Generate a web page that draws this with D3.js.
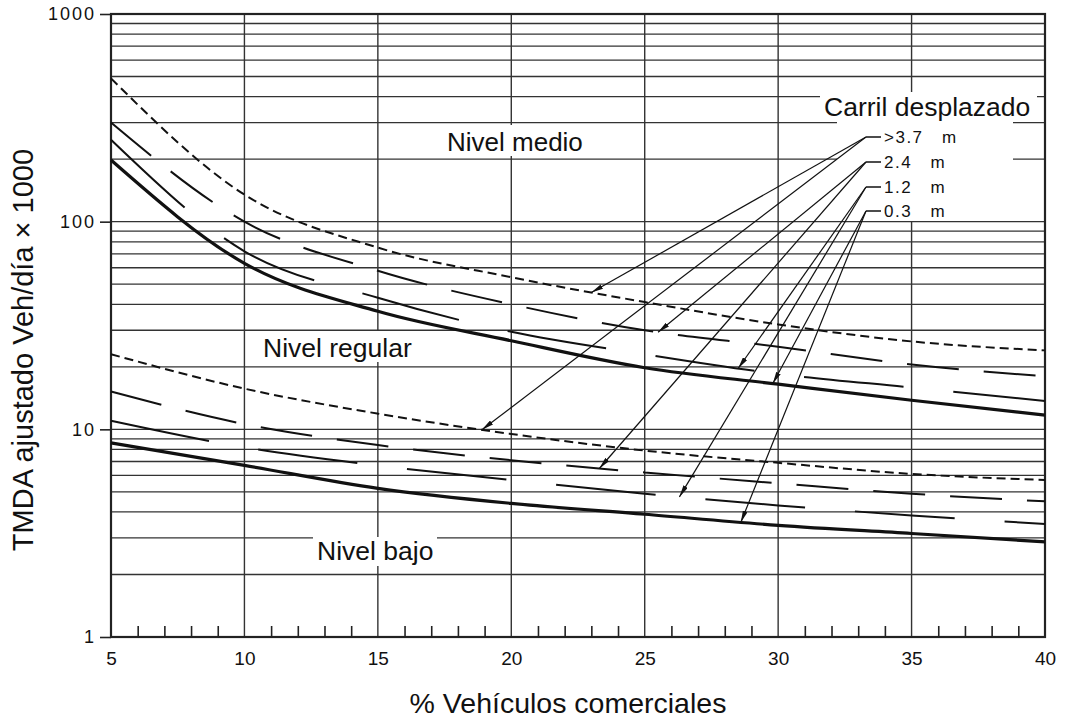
<!DOCTYPE html>
<html>
<head>
<meta charset="utf-8">
<script src="https://cdn.jsdelivr.net/npm/d3@7/dist/d3.min.js"></script>
<style>
  body { margin: 0; background: #fff; }
  text { font-family: "Liberation Sans", Arial, sans-serif; fill: #111; }
</style>
</head>
<body>
<svg id="chart" width="1065" height="724"></svg>
<script>
// % vehiculos comerciales (x)
var pctComercial = [5, 10, 15, 20, 25, 30, 35, 40];

// upper family (limit nivel medio / nivel regular)
var medio37 = [490, 135, 75, 54, 41, 32, 26.5, 24];
var medio24 = [300, 100, 58, 40, 30, 25, 20.5, 18];
var medio12 = [248, 72, 43, 29.5, 23, 18.5, 15.9, 13.7];
var medio03 = [198, 63, 37, 26.7, 19.8, 16.5, 13.8, 11.7];

// lower family (limit nivel regular / nivel bajo)
var regular37 = [23, 15.7, 11.9, 9.5, 7.9, 6.9, 6.1, 5.7];
var regular24 = [15.2, 10.6, 8.4, 7.1, 6.2, 5.5, 4.9, 4.5];
var regular12 = [11, 8.2, 6.7, 5.7, 4.9, 4.3, 3.85, 3.5];
var regular03 = [8.6, 6.7, 5.2, 4.4, 3.9, 3.45, 3.15, 2.87];

var carrilLabels = [">3.7  m", "2.4  m", "1.2  m", "0.3  m"];
var xTicks = [5, 10, 15, 20, 25, 30, 35, 40];
var yTicks = [1, 10, 100, 1000];
// where the arrows touch the curves (x value)
var arrowMedioX = [23.0, 25.5, 28.5, 29.8];
var arrowRegularX = [18.9, 23.3, 26.3, 28.6];

var svg = d3.select("#chart");
var pl = 111, pr = 1045, pt = 14, pb = 637;

var x = d3.scaleLinear().domain([5, 40]).range([pl, pr]);
var y = d3.scaleLog().domain([1, 1000]).range([pb, pt]);

// grid lines
var gridVals = [];
[1, 10, 100].forEach(function(dec) {
  for (var m = 1; m < 10; m++) gridVals.push(m * dec);
});
gridVals.push(1000);

var grid = svg.append("g");
grid.selectAll("line.h").data(gridVals).enter().append("line")
  .attr("x1", pl).attr("x2", pr)
  .attr("y1", function(d) { return y(d); })
  .attr("y2", function(d) { return y(d); })
  .attr("stroke", "#333")
  .attr("stroke-width", function(d) { return (d == 1 || d == 1000) ? 2.2 : 1.3; });

grid.selectAll("line.v").data(xTicks.slice(1, -1)).enter().append("line")
  .attr("x1", function(d) { return x(d); })
  .attr("x2", function(d) { return x(d); })
  .attr("y1", pt).attr("y2", pb)
  .attr("stroke", "#333").attr("stroke-width", 1.4);

// border
svg.append("rect")
  .attr("x", pl).attr("y", pt)
  .attr("width", pr - pl).attr("height", pb - pt)
  .attr("fill", "none").attr("stroke", "#222").attr("stroke-width", 2.2);

// minor ticks along the bottom
var minor = d3.range(6, 40).filter(function(d) { return d % 5 != 0; });
svg.append("g")
  .attr("transform", "translate(0," + pb + ")")
  .call(d3.axisBottom(x).tickValues(minor).tickSize(-11).tickFormat(""))
  .call(function(g) {
    g.select(".domain").remove();
    g.selectAll("line").attr("stroke", "#222").attr("stroke-width", 1.6);
  });

// x axis labels
svg.append("g")
  .attr("transform", "translate(0," + pb + ")")
  .call(d3.axisBottom(x).tickValues(xTicks).tickSize(0).tickPadding(15))
  .call(function(g) {
    g.select(".domain").remove();
    g.selectAll("text").attr("font-size", 19).attr("font-family", "Liberation Sans, Arial, sans-serif").attr("fill", "#222");
  });

// y axis
svg.append("g")
  .attr("transform", "translate(" + pl + ",0)")
  .call(d3.axisLeft(y).tickValues(yTicks).tickSize(11).tickPadding(4).tickFormat(d3.format("d")))
  .call(function(g) {
    g.select(".domain").remove();
    g.selectAll("line").attr("stroke", "#222").attr("stroke-width", 1.6);
    g.selectAll("text").attr("font-size", 18).attr("letter-spacing", "2px")
      .attr("font-family", "Liberation Sans, Arial, sans-serif").attr("fill", "#333");
  });

// white boxes behind labels
function box(x0, y0, w, h) {
  svg.append("rect").attr("x", x0).attr("y", y0).attr("width", w).attr("height", h).attr("fill", "#fff");
}
box(443, 125, 147, 31);
box(258, 331, 157, 31);
box(313, 537, 124, 29);
box(820, 92, 217, 29);
box(837, 121, 176, 100);

// curves
var styles = [
  { dash: "9,5", w: 2 },
  { dash: "52,25", w: 2 },
  { dash: "100,50", w: 2 },
  { dash: null, w: 3.2 }
];
var line = d3.line()
  .x(function(d) { return x(d[0]); })
  .y(function(d) { return y(d[1]); })
  .curve(d3.curveMonotoneX);

function drawFamily(list) {
  return list.map(function(vals, i) {
    var pts = pctComercial.map(function(p, j) { return [p, vals[j]]; });
    return svg.append("path")
      .attr("d", line(pts))
      .attr("fill", "none")
      .attr("stroke", "#111")
      .attr("stroke-width", styles[i].w)
      .attr("stroke-dasharray", styles[i].dash);
  });
}
var medioPaths = drawFamily([medio37, medio24, medio12, medio03]);
var regularPaths = drawFamily([regular37, regular24, regular12, regular03]);

// point of a path at a given x value
function pointAt(path, xv) {
  var node = path.node(), px = x(xv);
  var lo = 0, hi = node.getTotalLength();
  for (var k = 0; k < 40; k++) {
    var mid = (lo + hi) / 2;
    if (node.getPointAtLength(mid).x < px) lo = mid; else hi = mid;
  }
  return node.getPointAtLength(lo);
}

// arrows
svg.append("defs").append("marker")
  .attr("id", "ah").attr("viewBox", "0 0 12 5")
  .attr("refX", 12).attr("refY", 2.5)
  .attr("markerWidth", 12).attr("markerHeight", 5)
  .attr("markerUnits", "userSpaceOnUse").attr("orient", "auto")
  .append("path").attr("d", "M0,0L12,2.5L0,5Z").attr("fill", "#111");

var leaderX = 866, leaderY = [137, 162, 187, 211];
carrilLabels.forEach(function(lab, i) {
  [pointAt(medioPaths[i], arrowMedioX[i]), pointAt(regularPaths[i], arrowRegularX[i])].forEach(function(p) {
    svg.append("line")
      .attr("x1", leaderX).attr("y1", leaderY[i])
      .attr("x2", p.x).attr("y2", p.y)
      .attr("stroke", "#111").attr("stroke-width", 1.2)
      .attr("marker-end", "url(#ah)");
  });
  svg.append("line")
    .attr("x1", leaderX).attr("x2", 881)
    .attr("y1", leaderY[i]).attr("y2", leaderY[i])
    .attr("stroke", "#111").attr("stroke-width", 1.5);
  svg.append("text")
    .attr("x", 884).attr("y", leaderY[i] + 6)
    .attr("font-size", 17).attr("letter-spacing", "1.5px").attr("word-spacing", "3px")
    .style("white-space", "pre")
    .attr("fill", "#222")
    .text(lab);
});

// texts
svg.append("text").attr("x", 824).attr("y", 116).attr("font-size", 26.5).text("Carril desplazado");
svg.append("text").attr("x", 447).attr("y", 151).attr("font-size", 26).text("Nivel medio");
svg.append("text").attr("x", 263).attr("y", 357).attr("font-size", 26.5).text("Nivel regular");
svg.append("text").attr("x", 317).attr("y", 560).attr("font-size", 26.5).text("Nivel bajo");

svg.append("text")
  .attr("x", 568).attr("y", 713)
  .attr("text-anchor", "middle")
  .attr("font-size", 28.5)
  .text("% Vehículos comerciales");

svg.append("text")
  .attr("transform", "translate(33,350) rotate(-90)")
  .attr("text-anchor", "middle")
  .attr("font-size", 29)
  .text("TMDA ajustado Veh/día × 1000");
</script>
</body>
</html>
